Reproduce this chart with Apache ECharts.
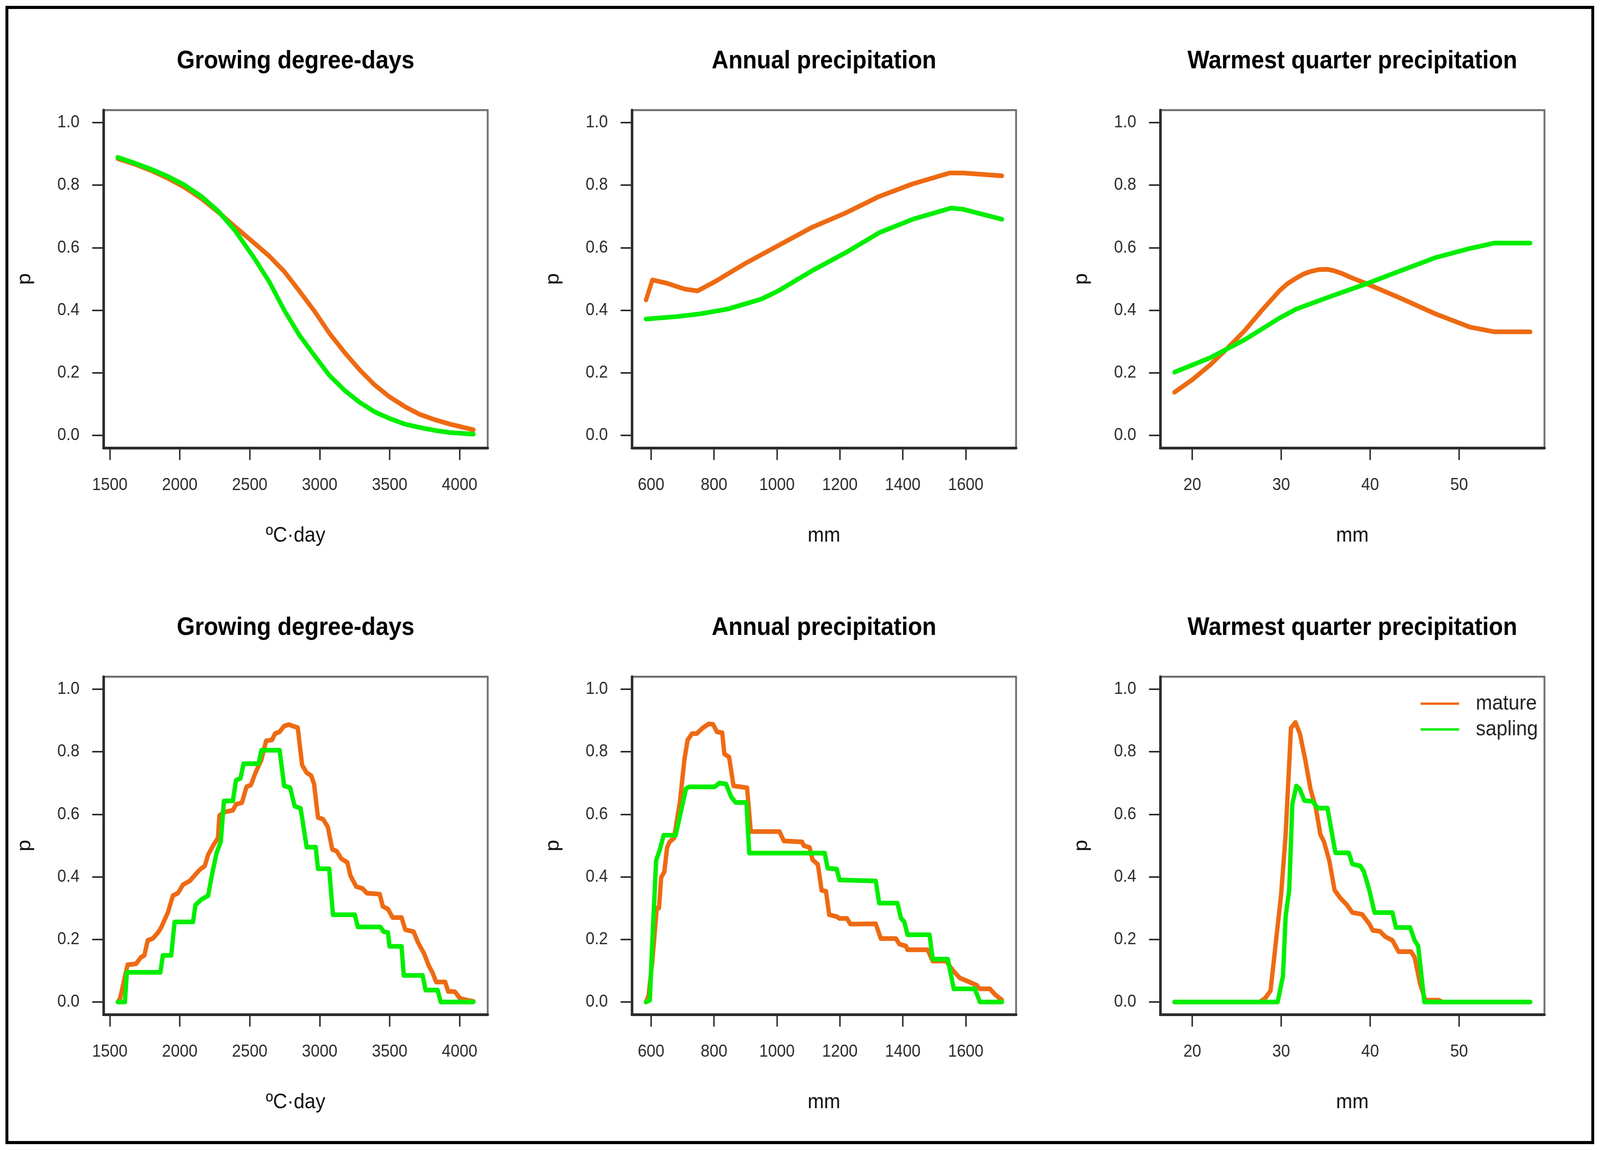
<!DOCTYPE html>
<html>
<head>
<meta charset="utf-8">
<script src="https://cdn.jsdelivr.net/npm/echarts@6/dist/echarts.min.js"></script>
<style>
html,body{margin:0;padding:0;background:#ffffff;overflow:hidden;}
#chart{position:absolute;left:0;top:0;width:4406px;height:2945px;transform-origin:0 0;}
</style>
</head>
<body>
<div id="chart"></div>
<script>
// ---------- text ----------
const seriesNames = ['mature', 'sapling'];
const panelTitles = ['Growing degree-days', 'Annual precipitation', 'Warmest quarter precipitation'];
const xAxisNames = ['\u00BAC\u00B7day', 'mm', 'mm'];
const yAxisName = 'p';

// ---------- ticks & axis ranges ----------
const gddTicks = [1500, 2000, 2500, 3000, 3500, 4000];
const apTicks = [600, 800, 1000, 1200, 1400, 1600];
const wqTicks = [20, 30, 40, 50];
const pTicks = [0, 0.2, 0.4, 0.6, 0.8, 1.0];
const gddLimits = [1455, 4201];
const apLimits = [539, 1760];
const wqLimits = [16.4, 59.6];
const pLimits = [-0.04, 1.04];

// ---------- top row: fitted responses ----------
const gddFitMature = [[1557,0.885],[1675,0.868],[1800,0.846],[1915,0.822],[2035,0.793],[2155,0.757],[2275,0.714],[2395,0.667],[2532,0.615],[2640,0.573],[2747,0.524],[2854,0.462],[2963,0.397],[3069,0.327],[3178,0.265],[3285,0.210],[3394,0.161],[3500,0.123],[3609,0.092],[3716,0.067],[3823,0.050],[3931,0.036],[4099,0.018]];
const gddFitSapling = [[1557,0.889],[1675,0.871],[1800,0.850],[1915,0.828],[2035,0.800],[2155,0.764],[2275,0.717],[2395,0.655],[2532,0.567],[2640,0.491],[2747,0.400],[2854,0.321],[2963,0.255],[3069,0.192],[3178,0.144],[3285,0.106],[3394,0.075],[3500,0.054],[3609,0.036],[3716,0.025],[3823,0.016],[3931,0.009],[4099,0.004]];
const apFitMature = [[584,0.433],[604,0.497],[652,0.486],[706,0.468],[748,0.462],[802,0.491],[898,0.549],[1004,0.607],[1111,0.665],[1218,0.711],[1325,0.764],[1431,0.804],[1549,0.839],[1591,0.839],[1715,0.830]];
const apFitSapling = [[584,0.372],[684,0.380],[759,0.389],[844,0.404],[951,0.436],[1004,0.462],[1111,0.526],[1218,0.584],[1325,0.648],[1431,0.691],[1554,0.727],[1591,0.723],[1715,0.691]];
const wqFitMature = [[18,0.138],[20,0.178],[22,0.225],[23.9,0.277],[25.9,0.335],[27.8,0.399],[29.8,0.462],[30.7,0.485],[31.7,0.503],[32.5,0.516],[33.3,0.524],[34.2,0.530],[35.2,0.531],[36.0,0.526],[36.8,0.518],[38.0,0.503],[39.5,0.486],[43.4,0.439],[47.3,0.389],[51.25,0.346],[54,0.331],[58,0.331]];
const wqFitSapling = [[18,0.202],[22,0.248],[25.9,0.306],[29.8,0.375],[31.7,0.404],[35.6,0.445],[39.7,0.486],[43.4,0.526],[47.3,0.568],[51.25,0.598],[54,0.615],[58,0.615]];

// ---------- bottom row: observed frequencies ----------
const gddObsMature = [[1557,0],[1574,0.012],[1627,0.119],[1687,0.122],[1723,0.143],[1747,0.149],[1771,0.197],[1807,0.203],[1843,0.221],[1867,0.238],[1915,0.286],[1951,0.340],[1987,0.348],[2023,0.375],[2071,0.387],[2107,0.405],[2143,0.423],[2179,0.435],[2203,0.471],[2239,0.501],[2273,0.524],[2283,0.596],[2316,0.607],[2380,0.613],[2402,0.632],[2444,0.637],[2477,0.688],[2509,0.694],[2541,0.733],[2584,0.775],[2617,0.835],[2659,0.838],[2681,0.858],[2714,0.864],[2745,0.882],[2779,0.887],[2810,0.882],[2843,0.877],[2875,0.757],[2907,0.733],[2939,0.724],[2960,0.697],[2988,0.590],[3025,0.584],[3058,0.560],[3090,0.488],[3122,0.482],[3155,0.458],[3198,0.446],[3219,0.405],[3261,0.369],[3306,0.363],[3337,0.348],[3429,0.345],[3451,0.306],[3488,0.297],[3521,0.270],[3585,0.270],[3612,0.231],[3671,0.225],[3703,0.190],[3747,0.154],[3778,0.118],[3806,0.094],[3833,0.064],[3897,0.064],[3918,0.034],[3966,0.033],[4002,0.012],[4050,0.006],[4099,0.002]];
const gddObsSapling = [[1557,0],[1608,0],[1622,0.095],[1862,0.095],[1879,0.149],[1939,0.149],[1963,0.256],[2095,0.256],[2112,0.310],[2155,0.328],[2203,0.340],[2227,0.400],[2263,0.476],[2293,0.512],[2316,0.643],[2380,0.643],[2402,0.709],[2434,0.715],[2456,0.762],[2563,0.762],[2584,0.805],[2714,0.805],[2746,0.691],[2789,0.685],[2821,0.626],[2864,0.619],[2907,0.495],[2972,0.495],[2988,0.426],[3068,0.426],[3095,0.279],[3251,0.279],[3273,0.240],[3434,0.240],[3456,0.225],[3488,0.222],[3499,0.178],[3585,0.178],[3601,0.085],[3736,0.085],[3757,0.038],[3843,0.038],[3865,0],[4099,0]];
const apObsMature = [[584,0],[592,0.020],[604,0.130],[618,0.300],[625,0.300],[632,0.398],[642,0.416],[651,0.494],[659,0.512],[673,0.524],[692,0.643],[706,0.775],[716,0.837],[730,0.858],[745,0.858],[764,0.876],[783,0.889],[797,0.888],[809,0.864],[826,0.861],[833,0.793],[848,0.783],[862,0.691],[905,0.685],[917,0.545],[1008,0.545],[1022,0.515],[1080,0.512],[1085,0.500],[1104,0.494],[1113,0.455],[1130,0.440],[1142,0.357],[1156,0.354],[1166,0.279],[1190,0.273],[1199,0.267],[1223,0.267],[1233,0.249],[1314,0.250],[1330,0.203],[1378,0.203],[1389,0.185],[1410,0.179],[1415,0.167],[1479,0.167],[1495,0.131],[1538,0.131],[1559,0.101],[1581,0.077],[1607,0.066],[1634,0.054],[1645,0.042],[1677,0.042],[1693,0.024],[1715,0.006]];
const apObsSapling = [[584,0],[596,0.006],[606,0.237],[616,0.452],[628,0.488],[640,0.533],[678,0.533],[692,0.596],[711,0.682],[721,0.688],[802,0.688],[817,0.700],[838,0.697],[855,0.655],[869,0.638],[903,0.638],[912,0.476],[1152,0.476],[1161,0.428],[1190,0.425],[1199,0.390],[1314,0.387],[1325,0.316],[1383,0.316],[1394,0.268],[1405,0.256],[1415,0.215],[1485,0.215],[1495,0.137],[1543,0.137],[1562,0.042],[1629,0.042],[1645,0],[1715,0]];
const wqObsMature = [[18,0],[27.6,0],[28.2,0.012],[28.8,0.036],[29.4,0.191],[30.0,0.346],[30.5,0.536],[31.1,0.876],[31.6,0.894],[32.1,0.858],[32.7,0.775],[33.3,0.680],[33.9,0.620],[34.4,0.536],[34.8,0.513],[35.4,0.453],[36.0,0.358],[36.6,0.334],[37.4,0.310],[38.0,0.286],[39.1,0.280],[39.9,0.250],[40.3,0.229],[41.1,0.226],[41.7,0.209],[42.5,0.197],[43.2,0.161],[44.6,0.161],[45.0,0.143],[45.6,0.060],[46.2,0.006],[47.7,0.006],[48.1,0],[58,0]];
const wqObsSapling = [[18,0],[29.6,0],[30.2,0.083],[30.5,0.274],[30.9,0.358],[31.25,0.632],[31.7,0.691],[32.1,0.680],[32.6,0.644],[33.5,0.642],[34.1,0.620],[35.2,0.620],[35.8,0.524],[36.1,0.477],[37.6,0.477],[38.0,0.441],[38.9,0.435],[39.3,0.417],[39.9,0.358],[40.5,0.286],[42.5,0.286],[42.9,0.238],[44.5,0.238],[45.0,0.197],[45.4,0.179],[46.1,0],[58,0]];

// ---------- styling / layout ----------
const ORANGE = '#EE6A12';
const GREEN = '#00EE00';
const FONT = '"Liberation Sans", Arial, Helvetica, sans-serif';
const colLeft = [285, 1740, 3195];
const rowTop = [282, 1733];
const boxW = 1058, boxH = 865;

const panels = [
  {row:0,col:0,ticks:gddTicks,lim:gddLimits,data:[gddFitMature,gddFitSapling]},
  {row:0,col:1,ticks:apTicks,lim:apLimits,data:[apFitMature,apFitSapling]},
  {row:0,col:2,ticks:wqTicks,lim:wqLimits,data:[wqFitMature,wqFitSapling]},
  {row:1,col:0,ticks:gddTicks,lim:gddLimits,data:[gddObsMature,gddObsSapling]},
  {row:1,col:1,ticks:apTicks,lim:apLimits,data:[apObsMature,apObsSapling]},
  {row:1,col:2,ticks:wqTicks,lim:wqLimits,data:[wqObsMature,wqObsSapling]}
];

const grid = [], xAxis = [], yAxis = [], series = [], graphic = [];
panels.forEach((p, i) => {
  grid.push({left: colLeft[p.col], top: rowTop[p.row], width: boxW, height: boxH,
    show: true, borderColor: '#6e6e6e', borderWidth: 5, backgroundColor: 'rgba(0,0,0,0)'});
  xAxis.push({
    gridIndex: i, type: 'value', min: p.lim[0], max: p.lim[1],
    name: xAxisNames[p.col], nameLocation: 'middle', nameGap: 198,
    nameTextStyle: {fontSize: 54, color: '#111', fontFamily: FONT},
    axisLine: {show: true, onZero: false, lineStyle: {color: '#2b2b2b', width: 7}},
    axisTick: {show: true, length: 31, customValues: p.ticks, lineStyle: {color: '#2b2b2b', width: 4}},
    axisLabel: {show: true, customValues: p.ticks, formatter: v => String(v), fontSize: 44, color: '#2b2b2b', margin: 74, fontFamily: FONT},
    splitLine: {show: false}
  });
  yAxis.push({
    gridIndex: i, type: 'value', min: pLimits[0], max: pLimits[1],
    name: yAxisName, nameLocation: 'middle', nameRotate: 90, nameGap: 190,
    nameTextStyle: {fontSize: 54, color: '#111', fontFamily: FONT},
    axisLine: {show: true, onZero: false, lineStyle: {color: '#2b2b2b', width: 7}},
    axisTick: {show: true, length: 31, customValues: pTicks, lineStyle: {color: '#2b2b2b', width: 4}},
    axisLabel: {show: true, customValues: pTicks, formatter: v => v.toFixed(1), fontSize: 44, color: '#2b2b2b', margin: 66, fontFamily: FONT},
    splitLine: {show: false}
  });
  [ORANGE, GREEN].forEach((c, k) => {
    series.push({
      type: 'line', name: seriesNames[k], xAxisIndex: i, yAxisIndex: i,
      data: p.data[k], showSymbol: false, symbol: 'none', smooth: false, color: c,
      lineStyle: {color: c, width: 12, cap: 'round', join: 'round'},
      emphasis: {disabled: true}, z: 2 + k, silent: true
    });
  });
  graphic.push({
    type: 'text', x: colLeft[p.col] + boxW / 2, y: rowTop[p.row] - 125,
    style: {text: panelTitles[p.col], fill: '#000', font: 'bold 64px ' + FONT,
      align: 'center', verticalAlign: 'middle', textAlign: 'center', textVerticalAlign: 'middle'}
  });
});
graphic.push({
  type: 'rect', shape: {x: 19, y: 19, width: 4367, height: 2907},
  style: {fill: 'none', stroke: '#000', lineWidth: 8}, z: 100
});

const el = document.getElementById('chart');
// fit the 4406x2945 drawing into whatever viewport the page actually gets
const vw = window.innerWidth || document.documentElement.clientWidth || 4406;
const vh = window.innerHeight || document.documentElement.clientHeight || 2945;
const sx = vw / 4406, sy = vh / 2945;
if (Math.abs(sx - 1) > 0.002 || Math.abs(sy - 1) > 0.002) {
  el.style.transform = 'scale(' + sx + ',' + sy + ')';
}
const chart = echarts.init(el, null, {renderer: 'canvas'});
chart.setOption({
  backgroundColor: '#ffffff',
  animation: false,
  grid, xAxis, yAxis, series, graphic,
  legend: {
    data: [{name: 'mature', icon: 'rect'}, {name: 'sapling', icon: 'rect'}],
    orient: 'vertical', left: 3907, top: 1767,
    itemWidth: 106, itemHeight: 6, itemGap: 6, selectedMode: false,
    textStyle: {fontSize: 54, color: '#222', lineHeight: 60, fontFamily: FONT, padding: [0, 0, 0, 41]}
  }
});
</script>
</body>
</html>
